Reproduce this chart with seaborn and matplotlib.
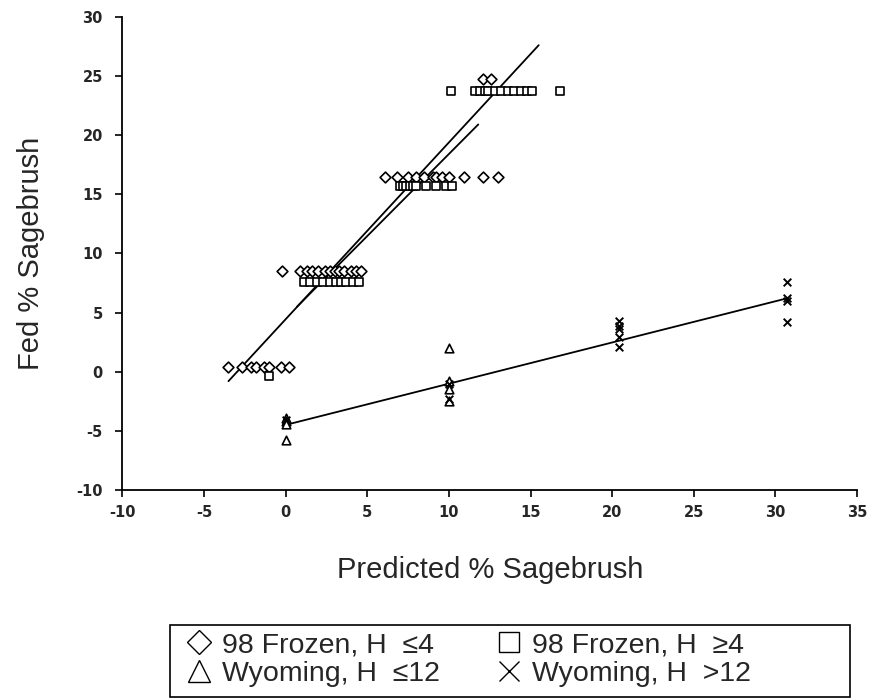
import matplotlib
matplotlib.use("Agg")
import matplotlib.pyplot as plt
from matplotlib.lines import Line2D
from matplotlib.patches import Rectangle
import seaborn as sns

# 98 Frozen, H <= 4 (diamonds)
frozen_lo_x = [-3.5, -2.7, -2.1, -1.8, -1.35, -1.0, -0.3, 0.2,
               -0.2, 0.9, 1.3, 1.6, 2.0, 2.4, 2.7, 3.0, 3.3, 3.6, 4.0, 4.3, 4.6,
               6.1, 6.8, 7.5, 8.0, 8.5, 9.0, 9.2, 9.6, 10.0, 10.9, 12.1, 13.0,
               12.1, 12.6]
frozen_lo_y = [0.4] * 8 + [8.5] * 13 + [16.5] * 12 + [24.7] * 2

# 98 Frozen, H >= 4 (squares)
frozen_hi_x = [-1.0,
               1.1, 1.5, 1.9, 2.3, 2.7, 3.1, 3.4, 3.7, 4.1, 4.5,
               7.0, 7.2, 7.4, 7.6, 7.8, 8.0, 8.6, 9.2, 9.8, 10.2,
               10.1, 11.6, 11.9, 12.2, 12.4, 12.8, 13.2, 13.6, 14.0, 14.4, 14.8, 15.1, 16.8]
frozen_hi_y = [-0.4] + [7.6] * 10 + [15.7] * 10 + [23.7] * 13

# Wyoming, H <= 12 (triangles)
wyo_lo_x = [0, 0, 0, 0, 10, 10, 10, 10]
wyo_lo_y = [-3.9, -4.2, -4.4, -5.8, 2.0, -0.8, -1.5, -2.5]

# Wyoming, H > 12 (crosses)
wyo_hi_x = [0, 10, 10, 20.4, 20.4, 20.4, 20.4, 20.4, 30.7, 30.7, 30.7, 30.7]
wyo_hi_y = [-4.1, -1.0, -2.3, 4.3, 3.9, 3.6, 2.9, 2.1, 7.6, 6.2, 6.0, 4.2]

# regression lines (end points)
fit1_x = [-3.5, 15.5]
fit1_y = [-0.8, 27.6]
fit2_x = [0.7, 11.8]
fit2_y = [5.5, 20.9]
fit3_x = [0.0, 30.7]
fit3_y = [-4.5, 6.2]

sns.set_style("white")
plt.rcParams['font.family'] = ['Liberation Sans', 'DejaVu Sans']
plt.rcParams['axes.unicode_minus'] = False

fig = plt.figure(figsize=(8.8, 7), dpi=100)
ax = fig.add_axes([0.139, 0.30, 0.835, 0.676])

for fx, fy in [(fit1_x, fit1_y), (fit2_x, fit2_y), (fit3_x, fit3_y)]:
    sns.lineplot(x=fx, y=fy, ax=ax, color="black", lw=1.3)

series = [
    (frozen_lo_x, frozen_lo_y, "D", 30),
    (frozen_hi_x, frozen_hi_y, "s", 32),
    (wyo_lo_x, wyo_lo_y, "^", 38),
]
for sx, sy, m, s in series:
    sns.scatterplot(x=sx, y=sy, ax=ax, marker=m, s=s, facecolor="white",
                    edgecolor="black", linewidth=1.2, zorder=3)
sns.scatterplot(x=wyo_hi_x, y=wyo_hi_y, ax=ax, marker="x", s=30,
                color="black", linewidth=1.4, zorder=3)

ax.set_xlim(-10, 35)
ax.set_ylim(-10, 30)
ax.set_xticks(range(-10, 40, 5))
ax.set_yticks(range(-10, 35, 5))
sns.despine(ax=ax)
for sp in ["left", "bottom"]:
    ax.spines[sp].set_color("black")
    ax.spines[sp].set_linewidth(1.3)
ax.tick_params(direction="out", length=5, width=1.2, color="black",
               labelsize=10.5, pad=6, left=True, bottom=True)
ax.tick_params(axis="y", pad=9)
for lab in ax.get_xticklabels() + ax.get_yticklabels():
    lab.set_fontweight("bold")
    lab.set_family("DejaVu Sans")

ax.set_xlabel("Predicted % Sagebrush", fontsize=21, labelpad=26)
ax.set_ylabel("Fed % Sagebrush", fontsize=21)
ax.yaxis.set_label_coords(-0.105, 0.5)

# legend box drawn separately so its padding matches the original
fig.add_artist(Rectangle((170 / 880, 1 - 697 / 700), 680 / 880, 72 / 700,
                         transform=fig.transFigure, fill=False,
                         edgecolor="black", linewidth=1.2))

handles = [
    Line2D([], [], ls="none", marker="D", ms=12, mfc="white", mec="black", mew=1),
    Line2D([], [], ls="none", marker="s", ms=14, mfc="white", mec="black", mew=1),
    Line2D([], [], ls="none", marker="^", ms=16, mfc="white", mec="black", mew=1),
    Line2D([], [], ls="none", marker="x", ms=14, color="black", mew=1),
]
labels = ["98 Frozen, H  \u22644", "Wyoming, H  \u226412",
          "98 Frozen, H  \u22654", "Wyoming, H  >12"]
order = [0, 2, 1, 3]
leg = fig.legend([handles[i] for i in order], labels, loc="upper left",
                 bbox_to_anchor=(186 / 880, 1 - 632 / 700), ncol=2, fontsize=20.5,
                 frameon=False, handletextpad=0.35, columnspacing=2.0,
                 handlelength=0.9, borderpad=0, labelspacing=0.12,
                 borderaxespad=0)

fig.savefig("out.png", dpi=100, facecolor="white")
